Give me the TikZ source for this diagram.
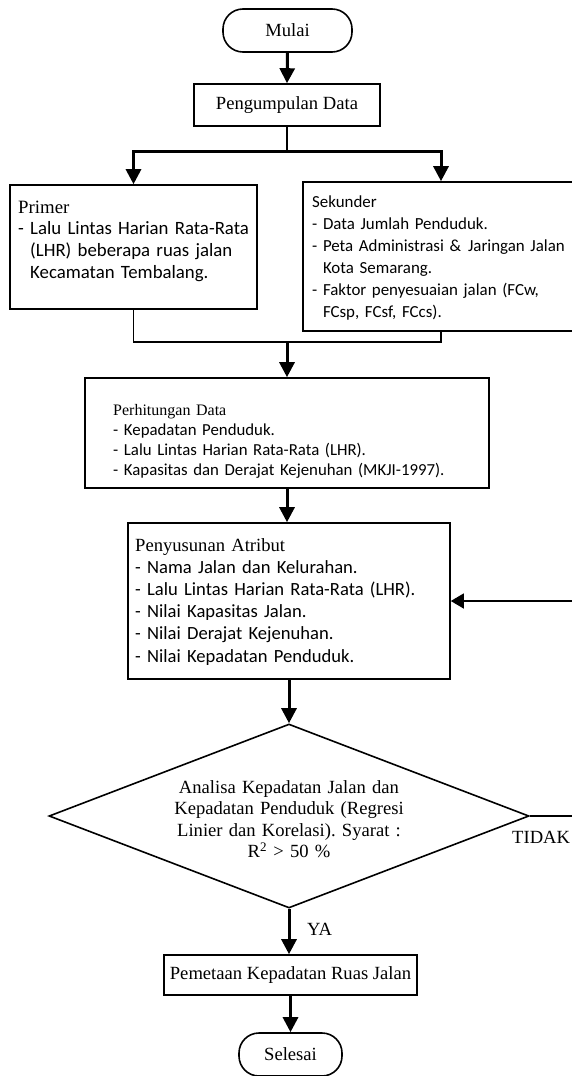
\documentclass[tikz,border=0pt]{standalone}
\usepackage{fontspec}
\setmainfont{Liberation Serif}
\newfontfamily\calf{Carlito}
\usetikzlibrary{arrows.meta,shapes.geometric}
\newcommand{\hd}{\hphantom{- }}
\frenchspacing
\begin{document}
\begin{tikzpicture}[x=1pt,y=-1pt,
  font=\fontsize{18.6}{21.5}\selectfont\frenchspacing,
  box/.style={draw,line width=1.6pt,rectangle,inner sep=0pt},
  term/.style={draw,line width=1.6pt,rectangle,rounded corners=20pt,inner sep=0pt},
  txt/.style={inner sep=0pt,anchor=base west,align=left},
  thinline/.style={line width=1.4pt},
  thickarrow/.style={line width=3pt,-{Triangle[length=15pt,width=15pt]}},
  thinarrow/.style={line width=1.4pt,-{Triangle[length=13pt,width=15pt]}}
]
\useasboundingbox (0,0) rectangle (572,1076);
\clip (0,0) rectangle (572,1076);

% terminals and boxes
\node[term,minimum width=129pt,minimum height=43pt] (mulai) at (287.5,30.5) {Mulai};
\node[box,minimum width=186pt,minimum height=42pt] (peng) at (287,105) {Pengumpulan Data};
\node[box,minimum width=247pt,minimum height=124pt] (prim) at (133.5,247) {};
\node[box,minimum width=276pt,minimum height=149pt] (sek) at (441,256.5) {};
\node[box,minimum width=404pt,minimum height=110pt] (perh) at (287,433) {};
\node[box,minimum width=322pt,minimum height=156pt] (peny) at (289,601) {};
\node[draw,diamond,line width=1.6pt,inner sep=0pt,aspect=2.6,
      minimum width=480pt,minimum height=184pt,align=center,text width=250pt]
      (dia) at (289,816)
      {\rule{0pt}{19pt}Analisa Kepadatan Jalan dan\\Kepadatan Penduduk (Regresi\\Linier dan Korelasi). Syarat :\\R\textsuperscript{2} > 50 \%};
\node[box,minimum width=253pt,minimum height=40pt] (pem) at (290.5,975) {Pemetaan Kepadatan Ruas Jalan};
\node[term,minimum width=103pt,minimum height=43pt] (sel) at (290.5,1054.5) {Selesai};

% box texts
\node[txt,text width=240pt,font=\fontsize{18.8}{21.7}\selectfont] (primt) at (18,213)
  {\rmfamily Primer\\
   \calf - Lalu Lintas Harian Rata-Rata\\
   \calf \hd(LHR) beberapa ruas jalan\\
   \calf \hd Kecamatan Tembalang.};
\node[txt,text width=300pt,font=\calf\fontsize{16.9}{22}\selectfont] (sekt) at (312,207)
  {\calf Sekunder\\
   \calf - Data Jumlah Penduduk.\\
   \calf - Peta Administrasi \&\hspace{7pt}Jaringan Jalan\\
   \calf \hd Kota Semarang.\\
   \calf - Faktor penyesuaian jalan (FCw,\\
   \calf \hd FCsp, FCsf, FCcs).};
\node[txt,text width=390pt,font=\fontsize{16.8}{20}\selectfont] (perht) at (113,415)
  {\rmfamily\fontsize{16}{20}\selectfont Perhitungan Data\\
   \calf\fontsize{16.8}{20}\selectfont - Kepadatan Penduduk.\\
   \calf\fontsize{16.8}{20}\selectfont - Lalu Lintas Harian Rata-Rata (LHR).\\
   \calf\fontsize{16.8}{20}\selectfont - Kapasitas dan Derajat Kejenuhan (MKJI-1997).};
\node[txt,text width=310pt,font=\fontsize{18.8}{22.2}\selectfont] (penyt) at (135,551)
  {\rmfamily\fontsize{18.6}{22.2}\selectfont Penyusunan Atribut\\
   \calf - Nama Jalan dan Kelurahan.\\
   \calf - Lalu Lintas Harian Rata-Rata (LHR).\\
   \calf - Nilai Kapasitas Jalan.\\
   \calf - Nilai Derajat Kejenuhan.\\
   \calf - Nilai Kepadatan Penduduk.};

% labels
\node[inner sep=0pt,anchor=base west] (ya) at (307,935) {YA};
\node[inner sep=0pt,anchor=base west] (tidak) at (512,843) {TIDAK};

% connectors
\coordinate (sp) at (287,151);
\coordinate (jn) at (287,342);
\coordinate (rx) at (582,816);

\draw[thickarrow] (mulai.south) -- (peng.north);
\draw[thinline] (peng.south) -- (sp);
\draw[thickarrow] (sp) -| (prim.north);
\draw[thickarrow] (sp) -| (sek.north);
\draw[thinline] (prim.south) |- (jn) -| (sek.south);
\draw[thickarrow] (jn) -- (jn |- perh.north);
\draw[thickarrow] (perh.south) -- (perh.south |- peny.north);
\draw[thickarrow] (peny.south) -- (dia.north);
\draw[thickarrow] (dia.south) -- (dia.south |- pem.north);
\draw[thickarrow] (pem.south) -- (pem.south |- sel.north);
\draw[thinarrow] (dia.east) -- (dia.east -| rx) |- (peny.east);
\end{tikzpicture}
\end{document}
